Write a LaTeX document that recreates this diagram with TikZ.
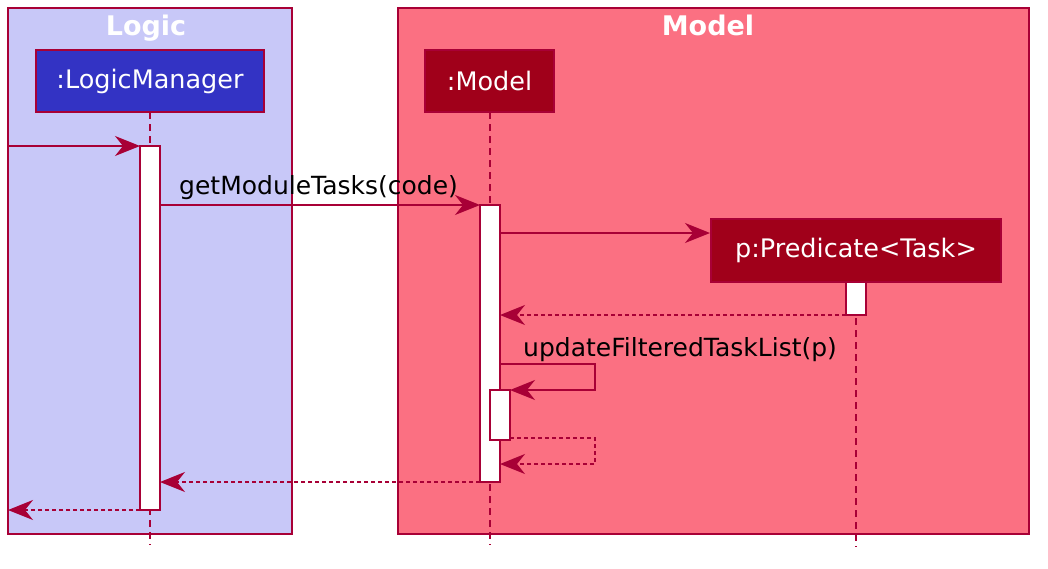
\documentclass[tikz,border=0pt]{standalone}
\usepackage{fontspec}
\setmainfont{DejaVu Sans}
\usetikzlibrary{arrows.meta}
\definecolor{umlborder}{HTML}{A80036}
\definecolor{logicbg}{HTML}{C8C8F8}
\definecolor{logicbox}{HTML}{3333C4}
\definecolor{modelbg}{HTML}{FB7082}
\definecolor{modelbox}{HTML}{A0001A}
\tikzset{
  grp/.style={draw=umlborder, line width=1.5pt},
  grptitle/.style={text=white, anchor=base, inner sep=0pt, font=\fontsize{27}{30}\selectfont\bfseries},
  actor/.style={draw=umlborder, line width=2pt, text=white, inner sep=0pt, font=\fontsize{25.5}{28}\selectfont},
  life/.style={draw=umlborder, line width=1.5pt, dash pattern=on 7pt off 5pt},
  act/.style={draw=umlborder, fill=white, line width=1.5pt},
  msg/.style={draw=umlborder, line width=1.5pt, -{Stealth[length=25pt,width=20pt,inset=8pt]}},
  ret/.style={msg, dash pattern=on 4pt off 3pt},
  lbl/.style={font=\fontsize{25}{28}\selectfont, inner sep=0pt}
}
\begin{document}
\begin{tikzpicture}[x=1pt,y=-1pt]
\useasboundingbox (0,0) rectangle (1048,568);

% groups
\draw[grp, fill=logicbg] (8,8) rectangle (292,534);
\draw[grp, fill=modelbg] (398,8) rectangle (1029,534);
\node[grptitle] (logictitle) at (146,35) {Logic};
\node[grptitle] (modeltitle) at (708,35) {Model};

% lifelines
\draw[life] (150,112) -- (150,545);
\draw[life] (490,112) -- (490,545);
\draw[life] (856,282) -- (856,547);

% participants
\node[actor, fill=logicbox, minimum width=228pt, minimum height=62pt] (lm) at (150,81) {:LogicManager};
\node[actor, fill=modelbox, minimum width=129pt, minimum height=62pt] (model) at (489.5,81) {:Model};
\node[actor, fill=modelbox, minimum width=290pt, minimum height=63pt] (pred) at (856,250.5) {p:Predicate<Task>};

% activations
\draw[act] (140,146) rectangle (160,510);
\draw[act] (480,205) rectangle (500,482);
\draw[act] (846,282) rectangle (866,315);
\draw[act] (490,390) rectangle (510,440);

% anchor points
\coordinate (in) at (8,146);
\coordinate (lmin) at (140,146);
\coordinate (lmcall) at (160,205);
\coordinate (mdin) at (480,205);
\coordinate (mdcreate) at (500,233);
\coordinate (pdret) at (846,315);
\coordinate (mdret) at (500,315);
\coordinate (selfout) at (500,364);
\coordinate (selfin) at (510,390);
\coordinate (selfend) at (510,438);
\coordinate (selfback) at (500,464);
\coordinate (mdout) at (480,482);
\coordinate (lmret) at (160,482);
\coordinate (lmout) at (140,510);
\coordinate (out) at (8,510);

% messages
\draw[msg] (in) -- (lmin);
\draw[msg] (lmcall) -- (mdin);
\node[lbl, anchor=base west] (callmsg) at (179,194) {getModuleTasks(code)};
\draw[msg] (mdcreate) -- (pred.west |- mdcreate);
\draw[ret] (pdret) -- (mdret);
\draw[msg] (selfout) -- ++(95,0) |- (selfin);
\node[lbl, anchor=base west] (selfmsg) at (523,356) {updateFilteredTaskList(p)};
\draw[ret] (selfend) -- ++(85,0) |- (selfback);
\draw[ret] (mdout) -- (lmret);
\draw[ret] (lmout) -- (out);

\end{tikzpicture}
\end{document}
